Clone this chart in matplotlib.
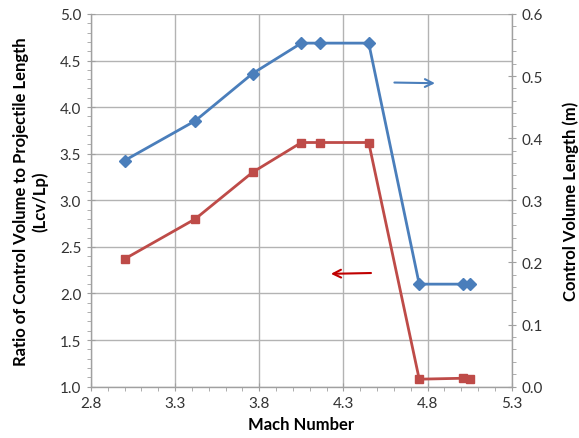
import matplotlib
matplotlib.use("Agg")
import matplotlib.pyplot as plt
from matplotlib.ticker import MultipleLocator, FormatStrFormatter, FixedLocator

plt.rcParams['font.family'] = ['Lato', 'DejaVu Sans']

mach = [3.0, 3.42, 3.76, 4.05, 4.16, 4.45, 4.75, 5.01, 5.05]
ratio = [2.37, 2.80, 3.30, 3.62, 3.62, 3.62, 1.08, 1.09, 1.08]
cv_length = [0.364, 0.428, 0.504, 0.553, 0.553, 0.553, 0.165, 0.165, 0.165]
x_ticks = [2.8, 3.3, 3.8, 4.3, 4.8, 5.3]

blue = '#4A7EBB'
red = '#BE4B48'
grid_c = '#b3b3b3'

fig = plt.figure(figsize=(5.79, 4.39), dpi=100)
ax = fig.add_axes([0.157, 0.117, 0.727, 0.849])
ax2 = ax.twinx()

ax.plot(mach, ratio, color=red, lw=2.0, marker='s', ms=6, zorder=3)
ax2.plot(mach, cv_length, color=blue, lw=2.0, marker='D', ms=6, zorder=3)

ax.set_xlim(2.8, 5.3)
ax.set_ylim(1.0, 5.0)
ax2.set_ylim(0.0, 0.6)

ax.xaxis.set_major_locator(FixedLocator(x_ticks))
ax.xaxis.set_minor_locator(FixedLocator([2.8 + 0.1 * i for i in range(26)]))
ax.yaxis.set_major_locator(MultipleLocator(0.5))
ax.yaxis.set_minor_locator(MultipleLocator(0.1))
ax2.yaxis.set_major_locator(MultipleLocator(0.1))
ax2.yaxis.set_minor_locator(MultipleLocator(0.02))
ax.xaxis.set_major_formatter(FormatStrFormatter('%.1f'))
ax.yaxis.set_major_formatter(FormatStrFormatter('%.1f'))
ax2.yaxis.set_major_formatter(FormatStrFormatter('%.1f'))

ax.grid(True, which='major', color=grid_c, lw=1.0)
ax.set_axisbelow(True)

for a in (ax, ax2):
    for s in a.spines.values():
        s.set_visible(False)
ax.spines['left'].set_visible(True)
ax.spines['bottom'].set_visible(True)
ax2.spines['right'].set_visible(True)
for s in (ax.spines['left'], ax.spines['bottom'], ax2.spines['right']):
    s.set_color('#a0a0a0')
    s.set_linewidth(1.0)

ax.tick_params(axis='both', which='major', direction='inout', length=6, color='#a0a0a0', labelsize=11, labelcolor='#333333', pad=4)
ax.tick_params(axis='both', which='minor', direction='out', length=3, color='#a0a0a0')
ax2.tick_params(axis='y', which='major', direction='inout', length=6, color='#a0a0a0', labelsize=11, labelcolor='#333333', pad=4)
ax2.tick_params(axis='y', which='minor', direction='out', length=3, color='#a0a0a0')

ax.set_xlabel('Mach Number', fontsize=12, fontweight='bold', labelpad=4)
ax.set_ylabel('Ratio of Control Volume to Projectile Length\n(Lcv/Lp)', fontsize=12, fontweight='bold', labelpad=8)
ax2.set_ylabel('Control Volume Length (m)', fontsize=12, fontweight='bold', labelpad=14)

ax.annotate('', xy=(4.86, 4.256), xytext=(4.586, 4.264),
            arrowprops=dict(arrowstyle='->', color=blue, lw=1.5, mutation_scale=14))
ax.annotate('', xy=(4.209, 2.21), xytext=(4.48, 2.22),
            arrowprops=dict(arrowstyle='->', color='#C00000', lw=1.5, mutation_scale=14))

fig.savefig('out.png', dpi=100)
